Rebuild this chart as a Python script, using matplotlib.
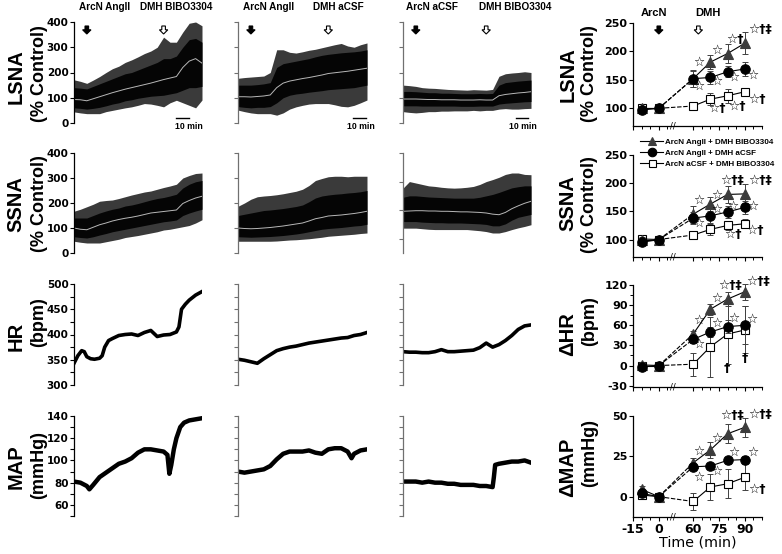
import matplotlib
matplotlib.use("Agg")
import matplotlib.pyplot as plt
from matplotlib.lines import Line2D
from matplotlib.patches import Polygon
from matplotlib.ticker import FixedLocator, NullFormatter

plt.rcParams['font.family'] = ['DejaVu Sans']
plt.rcParams['font.weight'] = 'bold'
plt.rcParams['axes.unicode_minus'] = False

# ---------------- DATA ----------------
# Left: raw traces, minutes relative to ArcN injection
t5 = [-10, -5, 0, 5, 10, 15, 20, 25, 30, 35, 40, 45, 50, 55, 60, 65, 70, 75, 80, 85, 90]

lsna1_mean = [93, 92, 88, 96, 104, 112, 120, 127, 134, 140, 146, 152, 158, 165, 172, 178, 184, 220, 245, 255, 237]
lsna1_hi = [171, 165, 157, 170, 184, 200, 215, 225, 240, 250, 262, 275, 285, 300, 340, 320, 320, 360, 395, 400, 385]
lsna1_lo = [44, 40, 37, 37, 37, 45, 50, 55, 60, 64, 70, 77, 75, 70, 64, 80, 90, 80, 70, 60, 91]
lsna1_core_hi = [140, 138, 135, 145, 155, 165, 175, 185, 195, 200, 210, 220, 230, 240, 255, 255, 265, 300, 330, 335, 320]
lsna1_core_lo = [60, 58, 55, 58, 62, 68, 75, 80, 88, 92, 98, 102, 106, 108, 110, 115, 120, 130, 140, 140, 145]

lsna2_mean = [104, 104, 103, 105, 107, 111, 140, 158, 166, 171, 176, 180, 185, 190, 196, 199, 202, 205, 209, 213, 217]
lsna2_hi = [177, 180, 182, 184, 186, 200, 290, 290, 280, 277, 282, 288, 292, 298, 304, 310, 315, 305, 300, 310, 317]
lsna2_lo = [51, 45, 40, 37, 37, 37, 31, 40, 55, 64, 70, 75, 77, 77, 77, 72, 66, 64, 70, 80, 91]
lsna2_core_hi = [150, 150, 150, 152, 155, 160, 220, 235, 240, 245, 250, 255, 262, 268, 272, 275, 278, 280, 282, 285, 290]
lsna2_core_lo = [65, 62, 60, 62, 62, 65, 80, 100, 110, 115, 118, 122, 125, 128, 132, 134, 136, 138, 140, 145, 150]

lsna3_mean = [95, 95, 95, 94, 93, 93, 92, 92, 92, 91, 91, 91, 92, 91, 91, 108, 113, 116, 119, 121, 124]
lsna3_hi = [150, 148, 145, 140, 138, 137, 135, 133, 132, 131, 130, 132, 131, 130, 133, 185, 195, 198, 200, 203, 200]
lsna3_lo = [45, 42, 40, 42, 45, 45, 47, 47, 48, 48, 48, 50, 48, 50, 50, 55, 57, 55, 55, 57, 58]
lsna3_core_hi = [125, 125, 124, 122, 120, 120, 118, 118, 117, 116, 116, 116, 117, 116, 117, 150, 160, 163, 166, 168, 170]
lsna3_core_lo = [68, 68, 68, 67, 67, 67, 67, 67, 67, 66, 66, 66, 67, 67, 67, 75, 78, 80, 82, 84, 85]

ssna1_mean = [100, 95, 93, 103, 113, 120, 128, 134, 139, 143, 148, 154, 160, 163, 166, 169, 172, 198, 210, 220, 227]
ssna1_hi = [167, 175, 185, 195, 207, 210, 212, 218, 225, 232, 238, 244, 248, 255, 262, 268, 275, 300, 310, 318, 320]
ssna1_lo = [47, 43, 40, 40, 40, 45, 50, 55, 62, 66, 70, 75, 80, 85, 92, 95, 100, 105, 110, 120, 133]
ssna1_core_hi = [140, 140, 140, 150, 160, 168, 175, 180, 188, 192, 198, 205, 212, 218, 222, 228, 235, 260, 275, 285, 290]
ssna1_core_lo = [65, 62, 60, 65, 72, 78, 85, 90, 95, 100, 105, 110, 115, 120, 125, 128, 132, 150, 160, 168, 175]

ssna2_mean = [100, 98, 97, 98, 100, 102, 105, 108, 112, 116, 120, 128, 137, 142, 148, 150, 152, 155, 158, 162, 167]
ssna2_hi = [187, 200, 215, 225, 228, 230, 233, 237, 242, 247, 255, 270, 290, 298, 305, 307, 307, 305, 307, 307, 307]
ssna2_lo = [47, 47, 47, 47, 47, 47, 48, 50, 52, 53, 55, 57, 60, 63, 67, 69, 71, 73, 75, 78, 80]
ssna2_core_hi = [150, 155, 160, 165, 170, 172, 175, 178, 182, 186, 192, 205, 220, 228, 232, 235, 237, 240, 242, 245, 250]
ssna2_core_lo = [65, 64, 63, 64, 65, 66, 68, 70, 73, 76, 80, 85, 90, 95, 98, 100, 102, 105, 108, 110, 115]

ssna3_mean = [196, 197, 198, 198, 197, 197, 196, 196, 195, 194, 194, 193, 192, 190, 186, 184, 192, 205, 215, 224, 231]
ssna3_hi = [277, 300, 295, 290, 285, 283, 280, 278, 277, 278, 280, 283, 290, 300, 307, 315, 325, 330, 330, 325, 324]
ssna3_lo = [137, 137, 137, 135, 133, 132, 132, 132, 132, 132, 132, 130, 128, 125, 120, 120, 125, 132, 138, 143, 149]
ssna3_core_hi = [245, 250, 250, 248, 246, 245, 244, 243, 242, 242, 242, 242, 245, 250, 255, 262, 270, 278, 282, 285, 285]
ssna3_core_lo = [160, 160, 160, 158, 157, 156, 156, 155, 155, 155, 154, 153, 152, 150, 145, 145, 152, 165, 175, 180, 185]

hr1_t = [-10, -7, -4, -2, 0, 3, 6, 10, 12, 14, 17, 20, 25, 30, 35, 40, 45, 50, 55, 60, 65, 70, 72, 74, 77, 80, 85, 90]
hr1 = [343, 358, 368, 366, 356, 352, 351, 353, 358, 375, 388, 392, 398, 400, 401, 398, 404, 408, 396, 399, 400, 405, 415, 450, 460, 468, 478, 485]
hr2 = [351, 349, 346, 343, 352, 360, 368, 372, 375, 377, 380, 383, 385, 387, 389, 391, 393, 394, 398, 400, 404]
hr3 = [366, 365, 365, 364, 364, 366, 370, 366, 366, 367, 368, 369, 374, 383, 375, 380, 388, 398, 410, 417, 419]

map1_t = [-10, -5, 0, 2, 5, 10, 15, 20, 25, 30, 35, 40, 45, 50, 55, 60, 63, 64.5, 66, 68, 70, 73, 76, 80, 85, 90]
map1 = [81, 80, 77, 74, 78, 85, 89, 93, 97, 99, 102, 107, 110, 110, 109, 108, 105, 88, 96, 110, 120, 130, 134, 136, 137, 138]
map2_t = [-10, -5, 0, 5, 10, 15, 20, 25, 30, 35, 40, 45, 50, 55, 60, 65, 70, 75, 78, 80, 85, 90]
map2 = [90, 89, 90, 91, 92, 95, 101, 106, 108, 108, 108, 109, 107, 106, 110, 111, 111, 108, 102, 106, 109, 110]
map3_t = [-10, -5, 0, 5, 10, 15, 20, 25, 30, 35, 40, 45, 50, 55, 60, 61, 62, 65, 70, 75, 80, 85, 90]
map3 = [81, 81, 81, 80, 81, 80, 80, 79, 79, 78, 78, 78, 77, 77, 76, 85, 96, 97, 98, 99, 99, 100, 98]

# Right: group means (time in min)
time_min = [-10, 0, 60, 70, 80, 90]
series_names = ["ArcN AngII + DMH BIBO3304", "ArcN AngII + DMH aCSF", "ArcN aCSF + DMH BIBO3304"]

lsna_tri = [100, 100, 152, 181, 196, 214]; lsna_tri_e = [4, 2, 15, 13, 17, 19]
lsna_cir = [97, 100, 152, 154, 164, 169]; lsna_cir_e = [4, 2, 14, 12, 10, 13]
lsna_sq = [100, 100, 104, 116, 122, 129]; lsna_sq_e = [4, 2, 5, 10, 12, 7]

ssna_tri = [100, 100, 145, 163, 180, 181]; ssna_tri_e = [5, 2, 15, 12, 15, 17]
ssna_cir = [95, 100, 138, 142, 149, 157]; ssna_cir_e = [4, 2, 10, 12, 10, 12]
ssna_sq = [101, 100, 108, 118, 125, 128]; ssna_sq_e = [5, 2, 3, 10, 8, 8]

hr_tri = [1, 0, 47, 84, 99, 110]; hr_tri_e = [5, 1, 5, 8, 10, 12]
hr_cir = [-2, 0, 39, 50, 58, 60]; hr_cir_e = [4, 1, 5, 8, 10, 28]
hr_sq = [0, 0, 2, 28, 47, 53]; hr_sq_e = [4, 1, 17, 45, 44, 35]

map_tri = [4.5, 0, 21, 29, 39, 43]; map_tri_e = [2, 0.5, 3, 5, 6, 6]
map_cir = [2, 0, 18.5, 19, 22.5, 23]; map_cir_e = [2, 0.5, 2, 2, 2, 2]
map_sq = [1, 0, -3, 6, 8, 12]; map_sq_e = [2, 0.5, 5, 8, 9, 8]

xtick_times = [-15, 0, 60, 75, 90]
xtick_labels = ["-15", "0", "60", "75", "90"]

STAR = "\u2606"
ann_lsna = [(STAR, 63, 180), (STAR, 73.6, 202), (STAR + "†", 84.3, 221), (STAR + "†‡", 98.8, 238),
            (STAR, 63, 139), (STAR, 73.6, 148), (STAR, 83.7, 155), (STAR, 94.6, 158),
            (STAR + "†", 73.6, 100), (STAR + "†", 85.3, 104), (STAR + "†", 97, 115)]
ann_ssna = [(STAR + "†‡", 82.4, 205), (STAR + "†‡", 98.8, 205), (STAR, 63, 170), (STAR, 73.6, 179),
            (STAR, 73.6, 154), (STAR, 83.3, 159), (STAR, 94.4, 159), (STAR, 63, 128),
            (STAR + "†", 83.3, 109), (STAR + "†", 95.9, 116)]
ann_hr = [(STAR + "†‡", 81.4, 120), (STAR + "†‡", 97.9, 125), (STAR, 63, 68), (STAR, 73.6, 100),
          (STAR, 73.6, 63), (STAR, 83.9, 70), (STAR, 94, 69), (STAR, 63, 32),
          ("†", 79.5, -4), ("†", 90, 11)]
ann_map = [(STAR + "†‡", 82.4, 50), (STAR + "†‡", 98.8, 51), (STAR, 63, 28), (STAR, 73.6, 36),
           (STAR, 73.6, 16), (STAR, 83.9, 27.5), (STAR, 94.6, 27.5), (STAR, 63, 12),
           (STAR + "†", 97, 4.6)]

# ---------------- LAYOUT ----------------
W, H = 782, 554
fig = plt.figure(figsize=(W / 100, H / 100), dpi=100)


def add_ax(x0, y0, x1, y1):
    return fig.add_axes([x0 / W, 1 - y1 / H, (x1 - x0) / W, (y1 - y0) / H])


def pos(t):
    return [v if v <= 0 else v - 40 for v in t] if isinstance(t, list) else (t if t <= 0 else t - 40)


LB = dict(family='Liberation Sans', weight='bold')

left_cols = [(74, 202), (238, 367), (403, 531)]
left_rows = [(22, 123), (153, 253), (284, 385), (416, 516)]
right_col = (633, 762)
right_rows = [(22.7, 126), (155, 257), (285, 387.3), (416, 517.3)]


def arrow(xc, ytop, filled):
    hw, sw, h, hh = 4.2, 1.8, 8.0, 4.2
    pts = [(xc - sw, ytop), (xc + sw, ytop), (xc + sw, ytop + h - hh), (xc + hw, ytop + h - hh),
           (xc, ytop + h), (xc - hw, ytop + h - hh), (xc - sw, ytop + h - hh)]
    pts = [(x / W, 1 - y / H) for x, y in pts]
    fig.add_artist(Polygon(pts, closed=True, transform=fig.transFigure,
                           fc='black' if filled else 'white', ec='black', lw=0.8))


def style_left(ax, ylim, major, minor, col, spine_c):
    ax.set_xlim(-10, 90)
    ax.set_ylim(*ylim)
    for s in ['top', 'right', 'bottom']:
        ax.spines[s].set_visible(False)
    ax.spines['left'].set_color(spine_c)
    ax.spines['left'].set_linewidth(0.9)
    ax.set_xticks([])
    ax.yaxis.set_major_locator(FixedLocator(major))
    if minor:
        ax.yaxis.set_minor_locator(FixedLocator(minor))
    ax.tick_params(axis='y', which='both', direction='out', length=3, width=0.8, color=spine_c,
                   labelsize=7.5, pad=1)
    if col > 0:
        ax.set_yticklabels([])
        ax.yaxis.set_minor_formatter(NullFormatter())


band_sets = [
    [(lsna1_mean, lsna1_lo, lsna1_hi, lsna1_core_lo, lsna1_core_hi),
     (lsna2_mean, lsna2_lo, lsna2_hi, lsna2_core_lo, lsna2_core_hi),
     (lsna3_mean, lsna3_lo, lsna3_hi, lsna3_core_lo, lsna3_core_hi)],
    [(ssna1_mean, ssna1_lo, ssna1_hi, ssna1_core_lo, ssna1_core_hi),
     (ssna2_mean, ssna2_lo, ssna2_hi, ssna2_core_lo, ssna2_core_hi),
     (ssna3_mean, ssna3_lo, ssna3_hi, ssna3_core_lo, ssna3_core_hi)],
]
hr_sets = [(hr1_t, hr1), (t5, hr2), (t5, hr3)]
map_sets = [(map1_t, map1), (map2_t, map2), (map3_t, map3)]
titles = [("ArcN AngII", "DMH BIBO3304"), ("ArcN AngII", "DMH aCSF"), ("ArcN aCSF", "DMH BIBO3304")]
dmh_time = [60, 60, 55]
scale_bar = [(70, 80, 80), (79, 89, 85), (78, 88, 84)]

for c, (x0, x1) in enumerate(left_cols):
    sc = 'black' if c == 0 else '#707070'
    for r in range(2):
        y0, y1 = left_rows[r]
        ax = add_ax(x0, y0, x1, y1)
        m, lo, hi, clo, chi = band_sets[r][c]
        ax.fill_between(t5, lo, hi, color='#3a3a3a', lw=0)
        ax.fill_between(t5, clo, chi, color='#050505', lw=0)
        ax.plot(t5, m, color='#b8b8b8', lw=0.7)
        if r == 1 and c == 2:
            style_left(ax, (50, 400), [100, 200, 300, 400], None, c, sc)
        else:
            style_left(ax, (0, 400), [0, 100, 200, 300, 400], None, c, sc)
        if r == 0:
            a, b, tx = scale_bar[c]
            ax.plot([a, b], [21, 21], color='black', lw=1, clip_on=False)
            ax.text(tx, -12, "10 min", ha='center', va='center', fontsize=6.3, **LB)
            px_arc = x0 + (0 + 10) / 100 * (x1 - x0)
            px_dmh = x0 + (dmh_time[c] + 10) / 100 * (x1 - x0)
            arrow(px_arc, 26, True)
            arrow(px_dmh, 26, False)
    # HR
    y0, y1 = left_rows[2]
    ax = add_ax(x0, y0, x1, y1)
    tt, vv = hr_sets[c]
    ax.plot(tt, vv, color='black', lw=2.6, solid_joinstyle='round')
    style_left(ax, (300, 500), [300, 350, 400, 450, 500], [325, 375, 425, 475], c, sc)
    # MAP
    y0, y1 = left_rows[3]
    ax = add_ax(x0, y0, x1, y1)
    tt, vv = map_sets[c]
    ax.plot(tt, vv, color='black', lw=3.2, solid_joinstyle='round')
    style_left(ax, (50, 140), [60, 80, 100, 120, 140], [50, 70, 90, 110, 130], c, sc)

# Titles above left traces
title_pos = [(104.5, 176.7), (268.5, 338), (431.7, 515.5)]
for (a, b), (xa, xb) in zip(titles, title_pos):
    fig.text(xa / W, 1 - 7.3 / H, a, ha='center', va='center', fontsize=7.2, **LB)
    fig.text(xb / W, 1 - 7.3 / H, b, ha='center', va='center', fontsize=7.2, **LB)

# Left y labels
left_labels = [("LSNA", "(% Control)", 77, 74), ("SSNA", "(% Control)", 204, 204),
               ("HR", "(bpm)", 336, 322), ("MAP", "(mmHg)", 467, 465)]
for a, b, ya, yb in left_labels:
    fig.text(16 / W, 1 - ya / H, a, rotation=90, ha='center', va='center', fontsize=14.5, **LB)
    fig.text(39 / W, 1 - yb / H, b, rotation=90, ha='center', va='center', fontsize=13, **LB)

right_labels = [("LSNA", "(% Control)", 75, 74), ("SSNA", "(% Control)", 203, 205),
                ("\u0394HR", "(bpm)", 334, 321), ("\u0394MAP", "(mmHg)", 467, 453)]
for a, b, ya, yb in right_labels:
    fig.text(568 / W, 1 - ya / H, a, rotation=90, ha='center', va='center', fontsize=14.5, **LB)
    fig.text(590 / W, 1 - yb / H, b, rotation=90, ha='center', va='center', fontsize=13, **LB)

# ---------------- RIGHT PANELS ----------------
right_data = [
    ((lsna_tri, lsna_tri_e), (lsna_cir, lsna_cir_e), (lsna_sq, lsna_sq_e), (69, 250), [100, 150, 200, 250], None, ann_lsna),
    ((ssna_tri, ssna_tri_e), (ssna_cir, ssna_cir_e), (ssna_sq, ssna_sq_e), (69, 250), [100, 150, 200, 250], None, ann_ssna),
    ((hr_tri, hr_tri_e), (hr_cir, hr_cir_e), (hr_sq, hr_sq_e), (-32.4, 120), [-30, 0, 30, 60, 90, 120],
     [-15, 15, 45, 75, 105], ann_hr),
    ((map_tri, map_tri_e), (map_cir, map_cir_e), (map_sq, map_sq_e), (-12.8, 50), [0, 25, 50], None, ann_map),
]
styles = [
    dict(marker='^', mfc='#3c3c3c', mec='#3c3c3c', ms=6.8, z=4),
    dict(marker='o', mfc='black', mec='black', ms=6.8, z=5),
    dict(marker='s', mfc='white', mec='black', ms=5.6, z=3),
]
xp = pos(time_min)
for r, (y0, y1) in enumerate(right_rows):
    ax = add_ax(right_col[0], y0, right_col[1], y1)
    tri, cir, sq, ylim, yt, ymin, anns = right_data[r]
    for (vals, errs), st in zip((tri, cir, sq), styles):
        z = st['z']
        ax.errorbar(xp, vals, yerr=errs, fmt='none', ecolor='#404040', elinewidth=0.7, capsize=2,
                    capthick=0.7, zorder=z - 0.5, clip_on=False)
        ax.plot(xp[:2], vals[:2], color='black', lw=0.8, zorder=z - 0.2)
        ax.plot(xp[1:3], vals[1:3], color='black', lw=0.8, ls=(0, (4, 1.5)), zorder=z - 0.2)
        ax.plot(xp[2:], vals[2:], color='black', lw=0.8, zorder=z - 0.2)
        ax.plot(xp, vals, ls='none', marker=st['marker'], mfc=st['mfc'], mec=st['mec'], ms=st['ms'],
                mew=0.8, zorder=z, clip_on=False)
    for txt, t, y in anns:
        ax.text(pos(t), y, txt, ha='center', va='center', fontsize=9, family='DejaVu Sans',
                weight='bold', color='black', zorder=6)
    ax.set_xlim(-15, 60)
    ax.set_ylim(*ylim)
    ax.spines['top'].set_visible(False)
    ax.spines['right'].set_visible(False)
    ax.spines['left'].set_linewidth(0.9)
    ax.spines['bottom'].set_linewidth(0.9)
    ax.yaxis.set_major_locator(FixedLocator(yt))
    if ymin:
        ax.yaxis.set_minor_locator(FixedLocator(ymin))
    ax.xaxis.set_major_locator(FixedLocator(pos(xtick_times)))
    ax.xaxis.set_minor_locator(FixedLocator([-10, -5, 5, 25, 30, 40, 45, 55, 60]))
    ax.tick_params(axis='y', which='major', direction='out', length=3, width=0.8, labelsize=8, pad=1)
    ax.tick_params(axis='y', which='minor', direction='out', length=2, width=0.7)
    ax.tick_params(axis='x', which='major', direction='out', length=3, width=0.8, labelsize=9, pad=1)
    ax.tick_params(axis='x', which='minor', direction='out', length=2, width=0.7)
    ax.text(8, ylim[0], "//", ha='center', va='center', fontsize=6, weight='normal')
    if r == 3:
        ax.set_xticklabels(xtick_labels)
        ax.set_xlabel("Time (min)", fontsize=10.3, labelpad=0)
    else:
        ax.set_xticklabels([])
    if r == 0:
        fig.text(654 / W, 1 - 13.5 / H, "ArcN", ha='center', va='center', fontsize=8, **LB)
        fig.text(707.5 / W, 1 - 13.5 / H, "DMH", ha='center', va='center', fontsize=8, **LB)
        arrow(633 + (pos(0) + 15) / 75 * 129, 26, True)
        arrow(633 + (pos(63) + 15) / 75 * 129, 26, False)
    if r == 1:
        handles = [Line2D([], [], color='black', lw=0.8, marker=st['marker'], mfc=st['mfc'], mec=st['mec'],
                          ms=st['ms'] * 0.9, mew=0.8) for st in styles]
        fig.legend(handles, series_names, loc='upper left', bbox_to_anchor=(640 / W, 1 - 138 / H),
                   frameon=False, prop=dict(family='Liberation Sans', weight='bold', size=5.8),
                   handlelength=2.9, handletextpad=0.2, labelspacing=0.45, borderpad=0, borderaxespad=0)

fig.savefig("out.png", dpi=100)
